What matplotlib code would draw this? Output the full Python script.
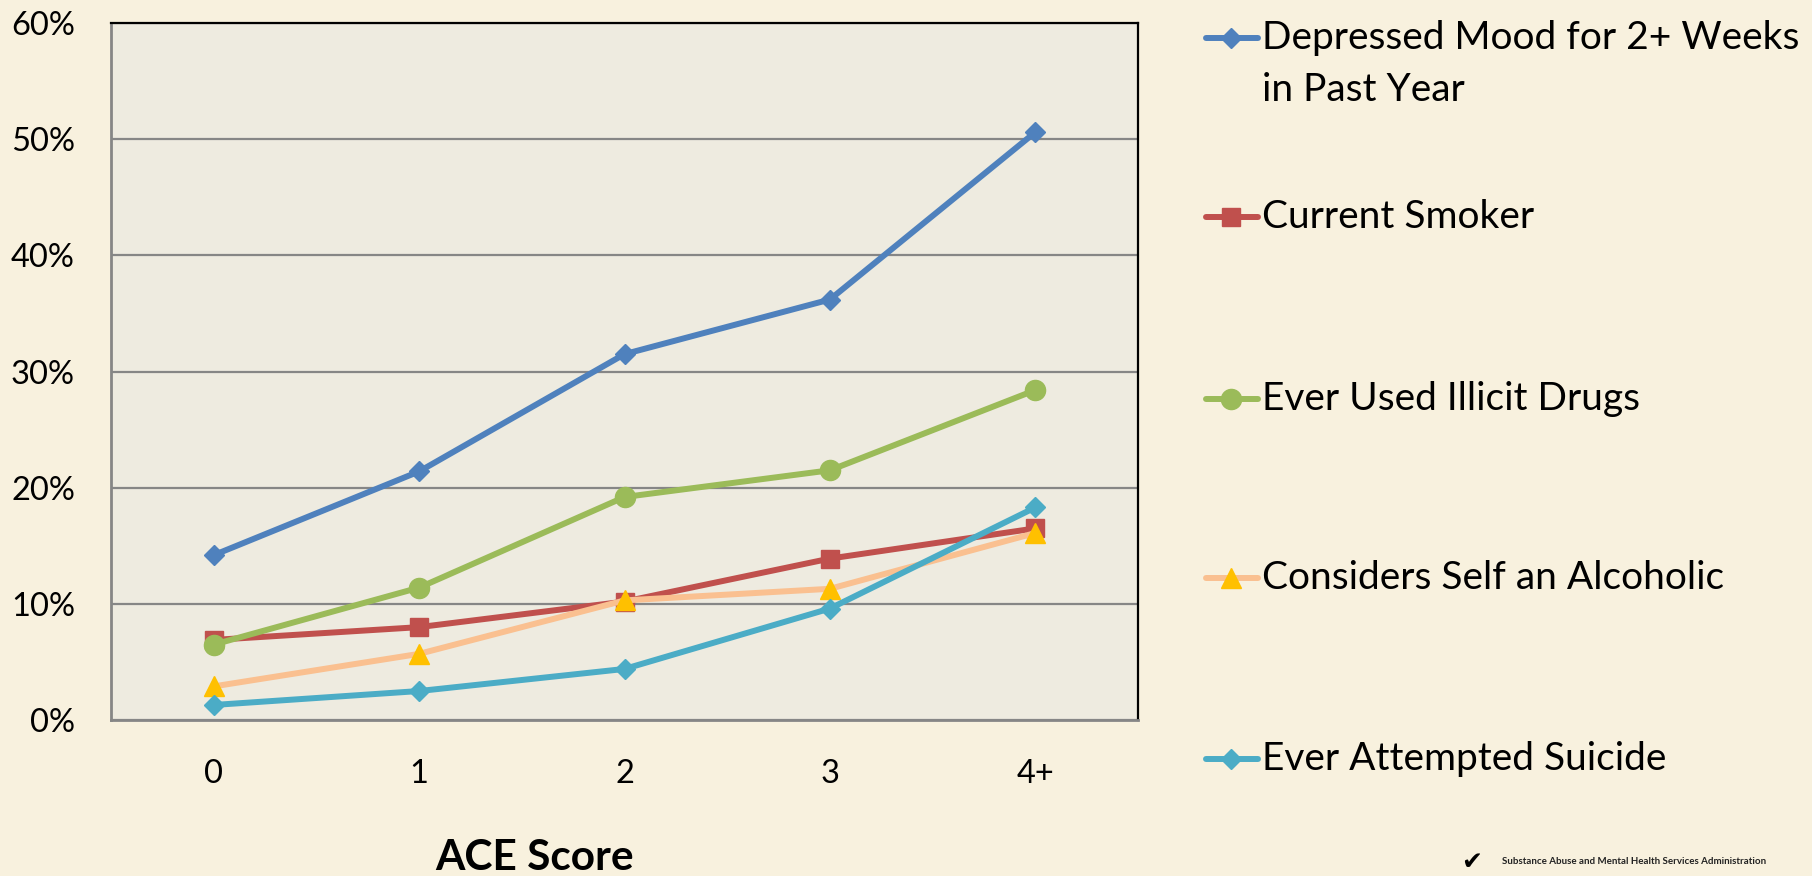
import matplotlib
matplotlib.use("Agg")
import matplotlib.pyplot as plt
from matplotlib.lines import Line2D
from matplotlib.ticker import FuncFormatter

# ACE score categories and share (%) of respondents per outcome
ace_scores = ["0", "1", "2", "3", "4+"]
depressed = [14.2, 21.4, 31.5, 36.2, 50.6]
smoker = [6.9, 8.0, 10.2, 13.9, 16.5]
drugs = [6.5, 11.4, 19.2, 21.5, 28.4]
alcoholic = [2.9, 5.7, 10.3, 11.3, 16.1]
suicide = [1.3, 2.5, 4.4, 9.6, 18.3]

labels = ["Depressed Mood for 2+ Weeks\nin Past Year", "Current Smoker",
          "Ever Used Illicit Drugs", "Considers Self an Alcoholic",
          "Ever Attempted Suicide"]

plt.rcParams['font.family'] = ['Lato', 'DejaVu Sans']

BG = "#F8F1DE"
PLOT_BG = "#EEEBE0"

# line colour, marker, marker size, marker colour
styles = [
    ("#4F81BD", "D", 10, "#4F81BD"),
    ("#C0504D", "s", 13.5, "#C0504D"),
    ("#9BBB59", "o", 14.5, "#9BBB59"),
    ("#FAC090", "^", 15, "#FFC000"),
    ("#4BACC6", "D", 10, "#4BACC6"),
]
series = [depressed, smoker, drugs, alcoholic, suicide]

fig = plt.figure(figsize=(18.12, 8.76), dpi=100, facecolor=BG)
ax = fig.add_axes([0.0613, 0.178, 0.5667, 0.7957], facecolor=PLOT_BG)

x = list(range(len(ace_scores)))
for vals, (lc, mk, ms, mc) in zip(series, styles):
    ax.plot(x, vals, color=lc, lw=4.3, marker=mk, markersize=ms,
            markerfacecolor=mc, markeredgecolor=mc, solid_capstyle="round")

ax.set_xlim(-0.5, 4.5)
ax.set_ylim(0, 60)
ax.set_yticks(range(0, 61, 10))
ax.yaxis.set_major_formatter(FuncFormatter(lambda v, p: f"{v:.0f}%"))
ax.set_xticks(x)
ax.set_xticklabels(ace_scores)
ax.tick_params(axis="both", length=0, labelsize=23.5, colors="black")
ax.tick_params(axis="y", pad=26)
ax.tick_params(axis="x", pad=28)
ax.grid(axis="y", color="#868686", lw=1.6)
ax.set_axisbelow(True)
for side in ("left", "bottom"):
    ax.spines[side].set_color("#868686")
    ax.spines[side].set_linewidth(2)
for side in ("top", "right"):
    ax.spines[side].set_color("black")
    ax.spines[side].set_linewidth(1.6)

fig.text(535 / 1812, 1 - 858 / 876, "ACE Score", ha="center", va="center",
         fontsize=30.5, fontweight="bold")

# legend drawn by hand so entries sit where the chart has them
leg_y = [38, 217, 399, 578, 759]
for lab, (lc, mk, ms, mc), yy in zip(labels, styles, leg_y):
    yf = 1 - yy / 876
    fig.add_artist(Line2D([1206 / 1812, 1231 / 1812, 1258 / 1812], [yf, yf, yf],
                          transform=fig.transFigure, color=lc, lw=4.3,
                          marker=mk, markersize=ms, markevery=[1],
                          markerfacecolor=mc, markeredgecolor=mc,
                          solid_capstyle="round"))
    lines = lab.split("\n")
    fig.text(1262 / 1812, yf, lines[0], ha="left", va="center", fontsize=28)
    if len(lines) > 1:
        fig.text(1262 / 1812, 1 - 90 / 876, lines[1], ha="left", va="center",
                 fontsize=28)

# agency footer
fig.text(1502 / 1812, 1 - 861 / 876, "Substance Abuse and Mental Health Services Administration",
         ha="left", va="center", fontsize=7, fontweight="bold", color="#222222")
fig.text(1472 / 1812, 1 - 862 / 876, "\u2714", ha="center", va="center",
         fontsize=18, color="black", family="DejaVu Sans")

fig.savefig("out.png", dpi=100, facecolor=BG)
